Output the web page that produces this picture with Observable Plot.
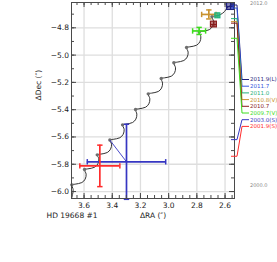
<!DOCTYPE html>
<html><head><meta charset="utf-8">
<script src="https://cdn.jsdelivr.net/npm/d3@7"></script>
<script src="https://cdn.jsdelivr.net/npm/@observablehq/plot@0.6"></script>
<style>body{margin:0;background:#fff;} svg{display:block}</style>
</head><body><div id="chart"></div>
<script>
// ---- data ----
const xTicks = [3.6, 3.4, 3.2, 3.0, 2.8, 2.6];
const yTicks = [-4.8, -5.0, -5.2, -5.4, -5.6, -5.8, -6.0];
const xTitle = "ΔRA (″)";
const yTitle = "ΔDec (″)";
const starTitle = "HD 19668 #1";

const epochLabels = ["2011.9(L)", "2011.7", "2011.0", "2010.8(V)", "2010.7", "2009.7(V)", "2003.0(S)", "2001.9(S)"];
const epochYears  = [2011.9, 2011.7, 2011.0, 2010.8, 2010.7, 2009.7, 2003.0, 2001.9];
const obsRA     = [2.561, 2.543, 2.651, 2.715, 2.679, 2.784, 3.299, 3.488];
const obsDec    = [-4.644, -4.637, -4.712, -4.702, -4.776, -4.823, -5.782, -5.812];
const obsRAErr  = [0.025, 0.012, 0.018, 0.051, 0.021, 0.046, 0.278, 0.142];
const obsDecErr = [0.025, 0.012, 0.018, 0.033, 0.021, 0.026, 0.275, 0.152];
const obsColors = ["#1f1f7e", "#3355dd", "#1fb27a", "#c8922e", "#8a1c1c", "#3ddc1e", "#3636c2", "#ff2c2c"];

// predicted position on track for the 2003.0(S) measurement
const predIndex = [6];
const predRA  = [3.417];
const predDec = [-5.6226];

// background-star track
const trackRA = [3.6887, 3.6816, 3.6773, 3.6865, 3.6631, 3.6156, 3.5922, 3.5851, 3.5965, 3.5730,
  3.5255, 3.5021, 3.4950, 3.5064, 3.4830, 3.4355, 3.4121, 3.4050, 3.4170, 3.3936,
  3.3461, 3.3227, 3.3156, 3.3270, 3.3035, 3.2560, 3.2326, 3.2255, 3.2347, 3.2113,
  3.1638, 3.1404, 3.1333, 3.1447, 3.1213, 3.0738, 3.0504, 3.0433, 3.0525, 3.0291,
  2.9816, 2.9582, 2.9511, 2.9631, 2.9397, 2.8922, 2.8688, 2.8617, 2.8730, 2.8496,
  2.8021, 2.7787, 2.7716, 2.7830, 2.7596, 2.7121, 2.6887, 2.6816, 2.6929, 2.6695,
  2.6319, 2.6035, 2.5858, 2.5681, 2.5539];
const trackDec = [-6.0515, -6.0221, -5.9855, -5.9510, -5.9459, -5.9342, -5.9092, -5.8726, -5.8389, -5.8337,
  -5.8220, -5.7971, -5.7604, -5.7311, -5.7260, -5.7142, -5.6893, -5.6526, -5.6226, -5.6174,
  -5.6057, -5.5808, -5.5441, -5.5111, -5.5060, -5.4943, -5.4694, -5.4327, -5.3990, -5.3938,
  -5.3821, -5.3572, -5.3205, -5.2839, -5.2787, -5.2670, -5.2421, -5.2054, -5.1717, -5.1666,
  -5.1548, -5.1299, -5.0933, -5.0566, -5.0515, -5.0397, -5.0148, -4.9782, -4.9444, -4.9393,
  -4.9276, -4.9026, -4.8660, -4.8308, -4.8257, -4.8139, -4.7890, -4.7523, -4.7186, -4.7135,
  -4.7025, -4.6805, -4.6548, -4.6402, -4.6328];
// yearly markers on the track
const markRA  = [3.6865, 3.5965, 3.5064, 3.4170, 3.3270, 3.2347, 3.1447, 3.0525, 2.9631, 2.8730, 2.7830, 2.6929];
const markDec = [-5.9510, -5.8389, -5.7311, -5.6226, -5.5111, -5.3990, -5.2839, -5.1717, -5.0566, -4.9444, -4.8308, -4.7186];

const timelineEnds = [2012.0, 2000.0];

// ---- tables ----
const obs = epochLabels.map((label, i) => ({
  label, year: epochYears[i], ra: obsRA[i], dec: obsDec[i],
  ex: obsRAErr[i], ey: obsDecErr[i], color: obsColors[i]
}));
const track = trackRA.map((ra, i) => ({ra, dec: trackDec[i]}));
const markers = markRA.map((ra, i) => ({ra, dec: markDec[i]}));
const preds = predIndex.map((k, i) => ({ra: predRA[i], dec: predDec[i], o: obs[k]}));

const big = obs.filter(d => d.ex > 0.03).reverse();
const small = obs.filter(d => d.ex <= 0.03).reverse();

// ---- layout ----
const W = 277, H = 262;
const mL = 71, mR = 43, mT = 2, mB = 64;
const fw = W - mL - mR, fh = H - mT - mB;
const xDom = [3.689, 2.533], yDom = [-6.051, -4.6145];
const inside = (v, dom) => v >= Math.min(...dom) && v <= Math.max(...dom);
const xMinor = d3.range(51, 74).map(i => i / 20).filter(v => inside(v, xDom));
const yMinor = d3.range(-61, -45).map(i => i / 10).filter(v => inside(v, yDom));

const capV = {draw(ctx, size) { const r = Math.sqrt(size / Math.PI); ctx.moveTo(0, -r); ctx.lineTo(0, r); }};
const capH = {draw(ctx, size) { const r = Math.sqrt(size / Math.PI); ctx.moveTo(-r, 0); ctx.lineTo(r, 0); }};

const tickCol = "#4a4a4a";
const chart = Plot.plot({
  width: W, height: H,
  marginLeft: mL, marginRight: mR, marginTop: mT, marginBottom: mB,
  x: {domain: xDom, axis: null},
  y: {domain: yDom, axis: null},
  color: {type: "identity"},
  style: {fontFamily: "DejaVu Sans", fontSize: "7.5px", background: "white", color: "#222", overflow: "visible"},
  marks: [
    Plot.ruleX(xTicks, {x: d => d, stroke: "#dedede", strokeWidth: 1.3}),
    Plot.ruleY(yTicks, {y: d => d, stroke: "#dedede", strokeWidth: 1.3}),
    Plot.line(track, {x: "ra", y: "dec", curve: "catmull-rom", stroke: "#333", strokeWidth: 1}),
    Plot.dot(markers, {x: "ra", y: "dec", r: 1.7, fill: "#6e6e6e", stroke: "none"}),
    Plot.link(preds, {x1: "ra", y1: "dec", x2: d => d.o.ra, y2: d => d.o.dec, stroke: d => d.o.color, strokeWidth: 0.9}),
    // large error crosses
    Plot.ruleY(big, {y: "dec", x1: d => d.ra - d.ex, x2: d => d.ra + d.ex, stroke: "color", strokeWidth: 1.7}),
    Plot.ruleX(big, {x: "ra", y1: d => d.dec - d.ey, y2: d => d.dec + d.ey, stroke: "color", strokeWidth: 1.7}),
    Plot.dot(big, {x: d => d.ra - d.ex, y: "dec", symbol: capV, r: 2.7, fill: "none", stroke: "color", strokeWidth: 1.5}),
    Plot.dot(big, {x: d => d.ra + d.ex, y: "dec", symbol: capV, r: 2.7, fill: "none", stroke: "color", strokeWidth: 1.5}),
    Plot.dot(big, {x: "ra", y: d => d.dec - d.ey, symbol: capH, r: 2.7, fill: "none", stroke: "color", strokeWidth: 1.5}),
    Plot.dot(big, {x: "ra", y: d => d.dec + d.ey, symbol: capH, r: 2.7, fill: "none", stroke: "color", strokeWidth: 1.5}),
    // small error boxes
    Plot.rect(small, {x1: d => d.ra - d.ex, x2: d => d.ra + d.ex, y1: d => d.dec - d.ey, y2: d => d.dec + d.ey, fill: "color", fillOpacity: 0.55, stroke: "color", strokeWidth: 1.2}),
    Plot.ruleY(small, {y: "dec", x1: d => d.ra - d.ex, x2: d => d.ra + d.ex, stroke: "color", strokeWidth: 1.2}),
    Plot.ruleX(small, {x: "ra", y1: d => d.dec - d.ey, y2: d => d.dec + d.ey, stroke: "color", strokeWidth: 1.2}),
    Plot.frame({stroke: tickCol, strokeWidth: 1}),
    // inward ticks
    Plot.tickX(xTicks, {x: d => d, insetTop: fh - 5, stroke: tickCol}),
    Plot.tickX(xTicks, {x: d => d, insetBottom: fh - 5, stroke: tickCol}),
    Plot.tickX(xMinor, {x: d => d, insetTop: fh - 3, stroke: tickCol}),
    Plot.tickX(xMinor, {x: d => d, insetBottom: fh - 3, stroke: tickCol}),
    Plot.tickY(yTicks, {y: d => d, insetRight: fw - 5, stroke: tickCol}),
    Plot.tickY(yTicks, {y: d => d, insetLeft: fw - 5, stroke: tickCol}),
    Plot.tickY(yMinor, {y: d => d, insetRight: fw - 3, stroke: tickCol}),
    Plot.tickY(yMinor, {y: d => d, insetLeft: fw - 3, stroke: tickCol}),
    // tick labels
    Plot.text(xTicks, {x: d => d, frameAnchor: "bottom", dy: 9.5, text: d => d.toFixed(1), fill: "#222"}),
    Plot.text(yTicks, {y: d => d, frameAnchor: "left", dx: -2.5, textAnchor: "end", text: d => (d < 0 ? "−" : "") + Math.abs(d).toFixed(1), fill: "#222"}),
    // titles
    Plot.text([xTitle], {frameAnchor: "bottom", dy: 19.5, text: d => d, fill: "#222"}),
    Plot.text([starTitle], {frameAnchor: "bottom-left", dx: -25, dy: 19.5, textAnchor: "start", text: d => d, fill: "#222"}),
    Plot.text([yTitle], {frameAnchor: "left", dx: -33, rotate: -90, text: d => d, fill: "#222"})
  ]
});
document.getElementById("chart").appendChild(chart);

// ---- epoch timeline on the right ----
const svg = d3.select(chart);
const fr = W - mR;
const yearY = d3.scaleLinear().domain([2000, 2012]).range([185, 3.5]);
const g = svg.append("g").attr("fill", "none");
const tg = svg.append("g").attr("text-anchor", "start").attr("font-family", "DejaVu Sans");
obs.forEach((d, i) => {
  const ty = yearY(d.year), ly = 79.5 + i * 6.7;
  g.append("path")
    .attr("d", d3.line()([[fr - 3, ty], [fr + 3, ty], [fr + 8, ly], [fr + 15, ly]]))
    .attr("stroke", d.color).attr("stroke-width", 1);
  tg.append("text").attr("x", fr + 16).attr("y", ly).attr("dy", "0.35em")
    .attr("fill", d.color).attr("font-size", "5.5px")
    .text(d.label);
});
timelineEnds.forEach(yr => {
  tg.append("text").attr("x", fr + 16).attr("y", yearY(yr)).attr("dy", "0.35em")
    .attr("fill", "#8a8a8a").attr("font-size", "5px")
    .text(yr.toFixed(1));
});
</script>
</body></html>
